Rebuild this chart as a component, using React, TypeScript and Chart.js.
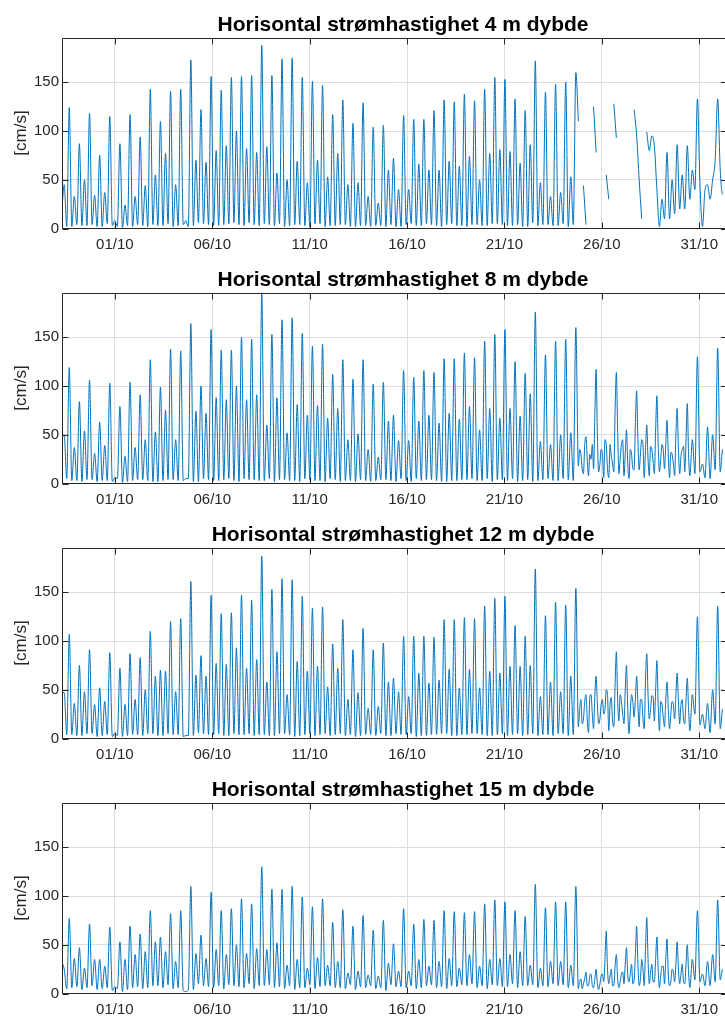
import React, { useEffect, useRef } from "react";
import { Chart, registerables } from "chart.js";
Chart.register(...registerables);

// ---------- axis / tick data ----------
const xTickDays = [0, 5, 10, 15, 20, 25, 30]; // days after 01/10 00:00
const xTickLabels = ["01/10", "06/10", "11/10", "16/10", "21/10", "26/10", "31/10"];
const yTicks = [0, 50, 100, 150];
const yLabel = "[cm/s]";
const X_MIN = -2.712;
const X_MAX = 31.218;
const Y_MAX = 196;
const FIRST_PEAK_DAY = -2.339; // time of first main tidal peak
const CYCLE_DAYS = 0.5201; // tidal cycle length
const FILL_START_CYCLE = 51; // cycles with extra in-between readings (noisy period)

const titles = [
  "Horisontal strømhastighet 4 m dybde",
  "Horisontal strømhastighet 8 m dybde",
  "Horisontal strømhastighet 12 m dybde",
  "Horisontal strømhastighet 15 m dybde",
];

// ---------- series data (per tidal cycle: low, secondary peak, low, main peak) ----------
const p1Major = [124, 87, 118, 75, 115, 87, 117, 94, 143, 110, 141, 143, 173, 122, 156, 142, 155, 156, 157, 188, 157, 174, 175, 155, 151, 147, 117, 132, 108, 129, 104, 106, 72, 116, 112, 112, 121, 132, 130, 138, 131, 143, 155, 153, 133, 121, 172, 140, 148, 150, 160, 4, 78, 55, 93, null, 96, 99, 40, 78, 86, 85, 133, 45, 133, 50];
const p1Minor = [45, 33, 50, 34, 37, 8, 24, 33, 44, 55, 77, 45, 8, 70, 68, 80, 85, 100, 82, 78, 84, 57, 50, 69, 47, 70, 53, 77, 45, 47, 33, 26, 60, 40, 40, 66, 60, 60, 69, 64, 74, 50, 77, 81, 79, 67, 86, 47, 33, 37, 53, null, null, null, null, null, null, 10, 95, 30, 50, 55, 60, 2, 50, 35];
const p1LowA = [16, 2, 3, 4, 2, 3, 1, 2, 3, 4, 3, 2, 4, 3, 5, 3, 4, 6, 3, 4, 5, 3, 2, 4, 3, 5, 2, 3, 4, 2, 3, 3, 2, 2, 4, 3, 5, 3, 4, 3, 2, 4, 3, 5, 3, 4, 2, 3, 4, 3, 2, 110, null, null, 30, null, null, 50, 80, 2, 10, 20, 30, 46, 30, 60];
const p1LowB = [2, 4, 3, 2, 5, 2, 3, 4, 2, 3, 5, 3, 2, 6, 4, 3, 5, 4, 6, 3, 4, 5, 3, 4, 2, 5, 3, 4, 2, 3, 2, 3, 4, 2, 5, 3, 4, 2, 5, 3, 4, 3, 5, 4, 3, 2, 6, 4, 3, 5, 4, 44, 125, null, 128, null, 122, null, 85, 10, 15, 20, 40, 40, 70, 40];

const p2Major = [119, 84, 106, 63, 103, 79, 104, 91, 127, 99, 138, 136, 164, 100, 158, 137, 137, 150, 148, 196, 153, 168, 170, 154, 141, 143, 112, 127, 107, 127, 102, 104, 70, 116, 109, 116, 114, 128, 128, 134, 129, 146, 153, 158, 125, 113, 176, 132, 146, 148, 160, 48, 117, 40, 114, 55, 95, 60, 90, 65, 77, 82, 130, 58, 139, 45];
const p2Minor = [50, 37, 54, 31, 39, 6, 28, 37, 45, 53, 75, 45, 5, 74, 72, 88, 86, 100, 86, 91, 60, 88, 52, 81, 70, 80, 67, 77, 45, 51, 35, 27, 64, 44, 44, 64, 70, 62, 72, 66, 79, 55, 77, 67, 77, 69, 92, 43, 40, 50, 52, 30, 25, 35, 28, 40, 30, 45, 35, 40, 30, 35, 45, 20, 50, 35];
const p2LowA = [45, 3, 2, 4, 3, 2, 1, 3, 4, 2, 3, 4, 3, 2, 5, 3, 4, 3, 5, 4, 3, 2, 4, 3, 5, 3, 2, 4, 3, 2, 3, 3, 4, 2, 3, 5, 4, 3, 2, 3, 4, 3, 5, 4, 3, 2, 4, 3, 5, 3, 4, 18, 8, 12, 6, 10, 5, 14, 8, 12, 6, 10, 8, 12, 5, 12];
const p2LowB = [5, 3, 4, 2, 3, 5, 2, 4, 3, 2, 4, 3, 5, 2, 4, 3, 5, 2, 4, 3, 5, 4, 3, 2, 4, 3, 5, 2, 3, 4, 2, 4, 3, 5, 2, 3, 4, 2, 3, 4, 5, 3, 2, 4, 5, 3, 2, 4, 3, 5, 3, 10, 15, 6, 12, 8, 14, 6, 10, 15, 8, 12, 10, 6, 14, 10];
const p2Fill = [35, 15, 40, 25, 30, 40, 70, 50, 20, 30, 45, 15, 40, 20, 75, 55, 25, 45, 30, 20, 35, 15, 60, 45, 30, 40, 35, 25, 38, 22, 55, 40, 25, 35, 40, 30, 32, 20, 50, 35, 28, 38, 45, 30];

const p3Major = [107, 75, 91, 52, 88, 72, 87, 83, 110, 70, 120, 123, 161, 85, 147, 128, 129, 147, 142, 187, 153, 164, 163, 146, 134, 135, 97, 122, 91, 113, 91, 98, 62, 105, 105, 105, 104, 122, 122, 124, 123, 136, 144, 146, 116, 105, 174, 126, 140, 137, 154, 45, 64, 50, 89, 75, 64, 87, 80, 58, 67, 62, 125, 36, 136, 40];
const p3Minor = [47, 36, 48, 35, 38, 5, 35, 40, 50, 64, 69, 48, 3, 65, 64, 77, 76, 93, 72, 81, 58, 89, 45, 79, 69, 74, 53, 72, 40, 47, 31, 33, 58, 48, 43, 67, 57, 60, 71, 52, 71, 52, 69, 67, 74, 74, 75, 43, 58, 48, 64, 40, 45, 35, 42, 38, 45, 40, 44, 35, 38, 40, 45, 25, 50, 30];
const p3LowA = [47, 4, 3, 5, 3, 2, 2, 4, 3, 5, 3, 4, 2, 3, 5, 4, 3, 5, 4, 3, 4, 3, 5, 2, 4, 3, 5, 4, 3, 2, 4, 3, 3, 5, 4, 2, 3, 4, 5, 3, 4, 5, 3, 4, 3, 5, 4, 3, 4, 5, 3, 12, 6, 15, 8, 18, 5, 12, 20, 8, 10, 15, 8, 14, 6, 10];
const p3LowB = [4, 3, 5, 2, 4, 3, 3, 4, 5, 3, 5, 4, 3, 6, 4, 5, 3, 4, 5, 4, 3, 5, 4, 3, 5, 4, 3, 5, 4, 3, 4, 5, 3, 4, 5, 3, 4, 5, 3, 4, 5, 4, 3, 5, 4, 3, 5, 4, 3, 5, 4, 20, 10, 25, 12, 15, 22, 10, 18, 12, 20, 15, 25, 10, 15, 12];
const p3Fill = [30, 15, 38, 20, 42, 25, 45, 35, 20, 40, 30, 45, 35, 18, 55, 40, 45, 25, 50, 30, 28, 38, 40, 35, 40, 20, 60, 45, 30, 42, 50, 35, 38, 22, 40, 30, 25, 35, 45, 38, 35, 20, 40, 30];

const p4Major = [77, 47, 71, 35, 68, 53, 69, 61, 85, 58, 82, 85, 110, 60, 104, 85, 87, 97, 92, 130, 107, 107, 110, 99, 89, 97, 73, 86, 69, 80, 65, 75, 51, 87, 71, 76, 75, 85, 84, 83, 84, 92, 96, 94, 85, 79, 112, 88, 94, 94, 110, 22, 25, 64, 40, 47, 69, 78, 58, 56, 53, 50, 85, 33, 96, 30];
const p4Minor = [25, 36, 26, 35, 28, 7, 35, 40, 43, 53, 43, 33, 2, 41, 36, 45, 40, 50, 41, 46, 45, 52, 29, 35, 26, 37, 29, 33, 21, 23, 19, 18, 31, 23, 23, 35, 28, 33, 36, 26, 40, 28, 35, 36, 40, 43, 29, 26, 33, 33, 29, 15, 20, 18, 25, 20, 30, 35, 30, 28, 25, 30, 35, 20, 40, 25];
const p4LowA = [33, 6, 4, 8, 5, 3, 2, 6, 5, 8, 6, 5, 3, 4, 8, 6, 5, 8, 6, 5, 8, 6, 5, 4, 6, 5, 8, 6, 5, 4, 6, 5, 3, 7, 6, 5, 8, 6, 5, 7, 8, 6, 5, 8, 7, 6, 8, 6, 7, 8, 6, 5, 8, 4, 10, 6, 12, 8, 10, 6, 8, 10, 6, 12, 8, 14];
const p4LowB = [5, 7, 6, 4, 6, 5, 4, 7, 6, 8, 9, 6, 4, 10, 7, 8, 9, 7, 10, 8, 9, 7, 8, 6, 9, 7, 8, 6, 9, 7, 8, 6, 9, 7, 8, 6, 9, 7, 8, 9, 10, 8, 9, 7, 10, 8, 9, 8, 10, 9, 8, 10, 6, 12, 8, 10, 14, 8, 12, 10, 12, 10, 14, 8, 12, 10];
const p4Fill = [12, 5, 15, 8, 18, 8, 15, 10, 10, 20, 35, 25, 18, 8, 28, 15, 12, 22, 30, 18, 20, 10, 40, 30, 15, 25, 45, 35, 22, 12, 35, 25, 18, 28, 35, 20, 12, 22, 30, 25, 20, 12, 30, 22];

const panels = [
  { title: titles[0], major: p1Major, minor: p1Minor, lowA: p1LowA, lowB: p1LowB, fill: null as (number | null)[] | null },
  { title: titles[1], major: p2Major, minor: p2Minor, lowA: p2LowA, lowB: p2LowB, fill: p2Fill },
  { title: titles[2], major: p3Major, minor: p3Minor, lowA: p3LowA, lowB: p3LowB, fill: p3Fill },
  { title: titles[3], major: p4Major, minor: p4Minor, lowA: p4LowA, lowB: p4LowB, fill: p4Fill },
];

// ---------- styling ----------
const FONT = "'Liberation Sans', Arial, Helvetica, sans-serif";
const AXIS_COLOR = "#262626";
const GRID_COLOR = "#dedede";
const LINE_COLOR = "#0072BD";
const PANEL_H = 255;
const TITLE_SIZE = 21;
const TITLE_BASELINE = 30.5;
const TITLE_CENTER_X = 403;
const TICK_LEN = 6;

function buildPoints(
  major: (number | null)[],
  minor: (number | null)[],
  lowA: (number | null)[],
  lowB: (number | null)[],
  fill: (number | null)[] | null
) {
  const pts: { x: number; y: number | null }[] = [];
  for (let k = 0; k < major.length; k++) {
    const tk = FIRST_PEAK_DAY + k * CYCLE_DAYS;
    const fi = (k - FILL_START_CYCLE) * 4;
    const hasFill = fill !== null && fi >= 0 && fi + 3 < fill.length;
    pts.push({ x: tk - 0.75 * CYCLE_DAYS, y: lowA[k] });
    if (hasFill) pts.push({ x: tk - 0.625 * CYCLE_DAYS, y: fill![fi] });
    pts.push({ x: tk - 0.5 * CYCLE_DAYS, y: minor[k] });
    if (hasFill) pts.push({ x: tk - 0.375 * CYCLE_DAYS, y: fill![fi + 1] });
    pts.push({ x: tk - 0.25 * CYCLE_DAYS, y: lowB[k] });
    if (hasFill) pts.push({ x: tk - 0.125 * CYCLE_DAYS, y: fill![fi + 2] });
    pts.push({ x: tk, y: major[k] });
    if (hasFill) pts.push({ x: tk + 0.125 * CYCLE_DAYS, y: fill![fi + 3] });
  }
  return pts;
}

function makeFramePlugin(title: string) {
  return {
    id: "frame",
    afterDatasetsDraw(chart: any) {
      const { ctx, chartArea } = chart;
      const { left, right, top, bottom } = chartArea;
      const xs = chart.scales.x;
      const ys = chart.scales.y;
      const L = Math.round(left) + 0.5;
      const T = Math.round(top) + 0.5;
      const B = Math.round(bottom) - 0.5;
      const R = right + 4;
      ctx.save();
      ctx.strokeStyle = AXIS_COLOR;
      ctx.lineWidth = 1;
      ctx.beginPath();
      ctx.moveTo(L, B);
      ctx.lineTo(L, T);
      ctx.lineTo(R, T);
      ctx.moveTo(L, B);
      ctx.lineTo(R, B);
      for (const d of xTickDays) {
        const px = Math.round(xs.getPixelForValue(d)) + 0.5;
        ctx.moveTo(px, B);
        ctx.lineTo(px, B - TICK_LEN);
        ctx.moveTo(px, T);
        ctx.lineTo(px, T + TICK_LEN);
      }
      for (const v of yTicks) {
        const py = Math.round(ys.getPixelForValue(v)) + 0.5;
        ctx.moveTo(L, py);
        ctx.lineTo(L + TICK_LEN, py);
        ctx.moveTo(R, py);
        ctx.lineTo(R - TICK_LEN, py);
      }
      ctx.stroke();
      ctx.font = `bold ${TITLE_SIZE}px ${FONT}`;
      ctx.fillStyle = "#000000";
      ctx.textAlign = "center";
      ctx.textBaseline = "alphabetic";
      ctx.fillText(title, TITLE_CENTER_X, TITLE_BASELINE);
      ctx.restore();
    },
  };
}

function Panel({ idx }: { idx: number }) {
  const ref = useRef<HTMLCanvasElement | null>(null);
  useEffect(() => {
    const p = panels[idx];
    const chart = new Chart(ref.current as HTMLCanvasElement, {
      type: "line",
      data: {
        datasets: [
          {
            data: buildPoints(p.major, p.minor, p.lowA, p.lowB, p.fill) as any,
            borderColor: LINE_COLOR,
            borderWidth: 1,
            pointRadius: 0,
            cubicInterpolationMode: "monotone",
            spanGaps: false,
            fill: false,
          },
        ],
      },
      options: {
        animation: false,
        responsive: false,
        events: [],
        layout: { padding: { top: 37.5, left: 0, right: 0, bottom: 0 } },
        plugins: { legend: { display: false }, tooltip: { enabled: false }, title: { display: false } },
        scales: {
          x: {
            type: "linear",
            min: X_MIN,
            max: X_MAX,
            afterBuildTicks: (s: any) => {
              s.ticks = xTickDays.map((v) => ({ value: v }));
            },
            afterFit: (s: any) => {
              s.height = 26.5;
            },
            ticks: {
              autoSkip: false,
              maxRotation: 0,
              padding: 7,
              color: AXIS_COLOR,
              font: { family: FONT, size: 15 },
              callback: (v: any) => xTickLabels[xTickDays.indexOf(Number(v))] ?? "",
            },
            grid: { color: GRID_COLOR, drawTicks: false },
            border: { display: false },
          },
          y: {
            type: "linear",
            min: 0,
            max: Y_MAX,
            afterBuildTicks: (s: any) => {
              s.ticks = yTicks.map((v) => ({ value: v }));
            },
            afterFit: (s: any) => {
              s.width = 62;
            },
            ticks: {
              padding: 3,
              color: AXIS_COLOR,
              font: { family: FONT, size: 15 },
              callback: (v: any) => String(v),
            },
            title: {
              display: true,
              text: yLabel,
              color: AXIS_COLOR,
              font: { family: FONT, size: 17 },
              padding: { top: 10.8, bottom: 0 },
            },
            grid: { color: GRID_COLOR, drawTicks: false },
            border: { display: false },
          },
        },
      },
      plugins: [makeFramePlugin(p.title)],
    } as any);
    return () => chart.destroy();
  }, [idx]);
  return <canvas ref={ref} width={725} height={PANEL_H} style={{ display: "block", width: 725, height: PANEL_H }} />;
}

export default function App() {
  return (
    <div style={{ position: "fixed", left: 0, top: 0, width: 725, height: 1016, overflow: "hidden", background: "#ffffff" }}>
      {panels.map((_, i) => (
        <Panel key={i} idx={i} />
      ))}
    </div>
  );
}
